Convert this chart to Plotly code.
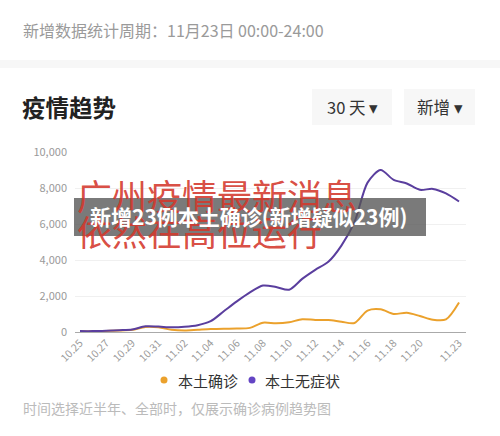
import plotly.graph_objects as go

# ---- data ----
dates = ["10.25", "10.26", "10.27", "10.28", "10.29", "10.30", "10.31",
         "11.01", "11.02", "11.03", "11.04", "11.05", "11.06", "11.07",
         "11.08", "11.09", "11.10", "11.11", "11.12", "11.13", "11.14",
         "11.15", "11.16", "11.17", "11.18", "11.19", "11.20", "11.21",
         "11.22", "11.23"]
confirmed = [30, 40, 60, 80, 120, 280, 260, 120, 80, 120, 160, 180, 190, 230,
             520, 480, 540, 710, 670, 660, 570, 500, 1190, 1260, 1000, 1070,
             890, 680, 700, 1640]
asymptomatic = [50, 50, 70, 100, 140, 320, 300, 260, 290, 380, 600, 1150, 1700,
                2200, 2580, 2500, 2350, 2950, 3450, 3900, 4800, 6100, 8300,
                9000, 8450, 8250, 7900, 7950, 7700, 7250]
tick_labels = ["10.25", "10.27", "10.29", "10.31", "11.02", "11.04", "11.06",
               "11.08", "11.10", "11.12", "11.14", "11.16", "11.18", "11.20", "11.23"]
y_ticks = [0, 2000, 4000, 6000, 8000, 10000]
series_names = ["本土确诊", "本土无症状"]
colors = ["#EBA12C", "#5A3E9E"]

W, H = 500, 436
L, R, T, B = 75, 34, 152, 104
pw, ph = W - L - R, H - T - B


def xp(px):
    return (px - L) / pw


def yp(py):
    return (H - B - py) / ph


idx = list(range(len(dates)))
fig = go.Figure()
for name, vals, c in zip(series_names, [confirmed, asymptomatic], colors):
    fig.add_trace(go.Scatter(
        x=idx, y=vals, mode="lines", name=name,
        line=dict(color=c, width=2, shape="spline", smoothing=0.8),
        showlegend=False, hoverinfo="skip"))

font_cjk = "Noto Sans CJK SC, Noto Sans, sans-serif"

fig.update_layout(
    width=W, height=H,
    margin=dict(l=L, r=R, t=T, b=B, pad=0),
    paper_bgcolor="white", plot_bgcolor="white",
    font=dict(family=font_cjk, color="#999999", size=11),
    xaxis=dict(
        range=[(L - 80) / 13.07, (L + pw - 80) / 13.07],
        tickvals=[dates.index(t) for t in tick_labels],
        ticktext=tick_labels, tickangle=-45,
        showgrid=False, zeroline=False, showline=False,
        tickfont=dict(size=10.5, color="#9a9a9a"),
        fixedrange=True, ticks="", ticklabelstandoff=2,
    ),
    yaxis=dict(
        range=[0, 10000], tickvals=y_ticks, tickformat=",d",
        showgrid=True, gridcolor="#F0F0F0", gridwidth=1,
        zeroline=True, zerolinecolor="#AAAAAA", zerolinewidth=1,
        showline=False, ticks="", ticklabelstandoff=7,
        tickfont=dict(size=11, color="#9a9a9a"), fixedrange=True,
    ),
)

shapes = []
annotations = []

# separator band
shapes.append(dict(type="rect", xref="paper", yref="paper",
                   x0=xp(0), x1=xp(W), y0=yp(68), y1=yp(60),
                   fillcolor="#F7F7F7", line=dict(width=0), layer="below"))
# top info text
annotations.append(dict(text="新增数据统计周期：11月23日 00:00-24:00",
                        x=xp(21), y=yp(30), xref="paper", yref="paper",
                        xanchor="left", yanchor="middle", showarrow=False,
                        font=dict(size=16, color="#9a9a9a", family=font_cjk)))
# section title
annotations.append(dict(text="<b>疫情趋势</b>",
                        x=xp(20), y=yp(107), xref="paper", yref="paper",
                        xanchor="left", yanchor="middle", showarrow=False,
                        font=dict(size=23.5, color="#222222", family=font_cjk)))
# buttons
for (x0, x1, label) in [(312, 392, "30 天 ▾"), (404, 475, "新增 ▾")]:
    shapes.append(dict(type="rect", xref="paper", yref="paper",
                       x0=xp(x0), x1=xp(x1), y0=yp(125), y1=yp(89),
                       fillcolor="#F7F7F7", line=dict(width=0), layer="below"))
    annotations.append(dict(text=label, x=xp((x0 + x1) / 2), y=yp(107),
                            xref="paper", yref="paper", xanchor="center",
                            yanchor="middle", showarrow=False,
                            font=dict(size=16.5, color="#333333", family=font_cjk)))

# red overlay headline text
red = "rgba(212,56,44,0.9)"
annotations.append(dict(text="广州疫情最新消息", x=xp(75), y=yp(194),
                        xref="paper", yref="paper", xanchor="left", yanchor="middle",
                        showarrow=False,
                        font=dict(size=35, color=red, family=font_cjk)))
annotations.append(dict(text="依然在高位运行", x=xp(75), y=yp(230),
                        xref="paper", yref="paper", xanchor="left", yanchor="middle",
                        showarrow=False,
                        font=dict(size=35, color=red, family=font_cjk)))
# dark banner
shapes.append(dict(type="rect", xref="paper", yref="paper",
                   x0=xp(74), x1=xp(426), y0=yp(236), y1=yp(198),
                   fillcolor="rgba(85,85,85,0.78)", line=dict(width=0), layer="above"))
annotations.append(dict(text="<b>新增23例本土确诊(新增疑似23例)</b>",
                        x=xp(248), y=yp(216), xref="paper", yref="paper",
                        xanchor="center", yanchor="middle", showarrow=False,
                        font=dict(size=21, color="white", family=font_cjk)))

# legend
for (cx, tx, name, c) in [(164, 176, series_names[0], colors[0]),
                          (252, 263, series_names[1], "#6445C4")]:
    shapes.append(dict(type="circle", xref="paper", yref="paper",
                       x0=xp(cx - 3.5), x1=xp(cx + 3.5), y0=yp(383.5), y1=yp(376.5),
                       fillcolor=c, line=dict(width=0)))
    annotations.append(dict(text=name, x=xp(tx), y=yp(380), xref="paper", yref="paper",
                            xanchor="left", yanchor="middle", showarrow=False,
                            font=dict(size=15, color="#333333", family=font_cjk)))

# footnote
annotations.append(dict(text="时间选择近半年、全部时，仅展示确诊病例趋势图",
                        x=xp(21), y=yp(408), xref="paper", yref="paper",
                        xanchor="left", yanchor="middle", showarrow=False,
                        font=dict(size=14, color="#BBBBBB", family=font_cjk)))

fig.update_layout(shapes=shapes, annotations=annotations)
fig.write_html("out.html")
